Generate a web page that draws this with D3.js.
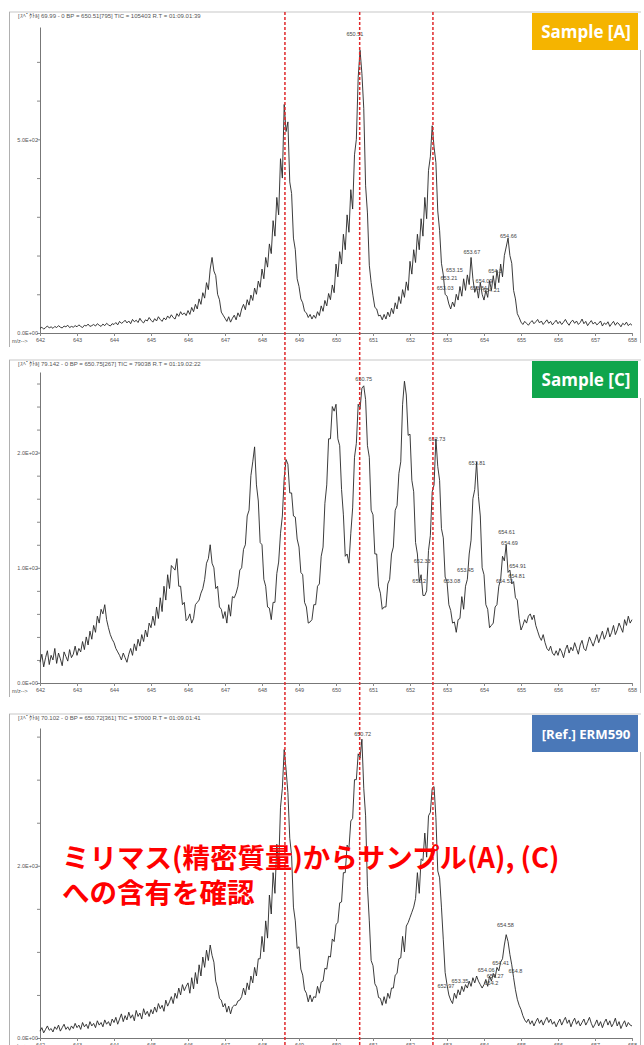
<!DOCTYPE html>
<html>
<head>
<meta charset="utf-8">
<script src="https://cdn.jsdelivr.net/npm/d3@7"></script>
<style>
  body { margin: 0; background: #fff; }
  svg { display: block; }
</style>
</head>
<body>
<script>
// m/z grid of the spectra (every 0.05 from 642)
const mzStart = 642, mzStep = 0.05;

// intensities
const sampleA = [
  12,15,10,14,18,13,16,12,17,14,19,15,13,18,16,20,14,17,15,19,
  16,21,17,14,20,18,23,17,19,22,18,24,20,17,23,19,25,21,18,24,
  22,27,21,30,25,28,33,26,31,24,35,29,33,27,38,30,26,34,31,40,
  33,28,37,31,42,35,30,39,34,44,38,47,40,36,50,43,55,47,52,45,
  58,48,66,55,74,62,88,74,104,90,130,112,165,195,160,148,100,86,54,46,
  38,30,42,28,38,46,34,52,42,62,74,60,86,72,98,84,116,100,134,118,
  165,140,195,170,230,205,290,250,350,305,450,400,590,520,545,390,360,245,215,140,
  120,88,78,56,52,40,48,36,46,38,55,45,70,56,84,70,102,86,124,104,
  178,145,210,178,255,215,305,260,370,320,460,500,660,730,670,580,380,310,175,130,
  96,66,62,44,46,34,48,36,54,42,64,50,78,62,94,76,112,92,132,110,
  185,152,215,182,255,215,295,250,350,295,420,455,535,480,440,315,265,180,150,100,
  95,75,62,80,68,100,85,120,95,140,110,150,125,195,140,105,120,90,130,100,
  85,110,92,135,110,148,115,162,130,178,145,200,222,245,200,180,110,88,50,40,
  28,22,30,25,20,27,32,24,29,35,26,31,22,28,34,25,30,21,27,33,
  24,30,22,28,35,26,20,29,33,25,31,22,27,36,24,30,19,26,32,23,
  28,21,25,31,18,26,22,29,17,24,30,20,27,23,16,25,21,28,19,24,
  20
];
const sampleC = [
  18,25,14,22,28,16,24,20,30,17,26,21,15,27,23,19,29,22,25,32,
  24,30,27,36,29,40,33,45,38,50,44,58,52,64,60,68,55,48,42,38,
  35,30,27,24,20,26,22,18,25,30,24,34,28,38,32,42,36,46,40,52,
  48,58,50,66,56,74,62,84,72,94,82,102,100,98,108,84,84,68,70,54,
  56,60,52,56,68,70,72,78,82,90,104,108,120,104,100,82,84,66,64,56,
  62,52,68,58,75,74,78,84,98,100,116,120,145,150,180,192,205,172,158,122,
  120,90,84,66,65,55,70,70,95,105,130,145,178,194,190,165,165,145,144,125,
  118,96,94,70,66,52,53,55,68,68,84,86,110,118,156,172,212,212,240,236,
  242,212,206,168,146,110,112,104,130,152,196,208,242,238,256,258,246,206,196,150,
  146,112,112,84,78,64,66,66,86,90,112,118,150,154,182,192,242,262,250,215,
  216,176,166,122,112,88,94,76,76,80,115,128,166,172,212,188,176,134,126,92,
  88,68,63,52,53,44,55,56,75,64,84,90,112,124,160,168,192,162,145,100,
  94,68,64,48,50,52,66,68,84,90,110,106,120,96,98,86,88,74,72,56,
  46,50,55,52,58,60,55,59,50,45,40,37,42,35,30,28,32,26,24,28,
  24,30,27,22,29,33,26,31,28,35,30,25,33,37,30,28,34,40,36,32,
  37,42,35,40,45,38,42,48,40,44,50,42,46,52,48,44,55,50,58,52,
  55
];
const refERM = [
  8,12,6,10,14,9,11,7,13,10,15,8,12,16,10,13,9,14,11,17,
  12,15,10,18,13,16,11,19,14,17,12,20,15,18,13,21,16,19,14,22,
  18,24,16,22,28,19,26,21,30,23,27,20,32,25,29,22,34,27,31,25,
  33,28,36,30,40,34,38,31,44,37,42,48,40,52,46,58,50,62,55,60,
  64,52,70,57,76,63,85,72,94,82,102,90,108,96,88,66,58,46,44,36,
  40,30,37,28,36,38,38,43,44,48,58,50,64,56,72,64,82,72,92,92,
  118,100,136,116,166,144,192,168,225,198,268,290,335,312,285,232,212,152,136,104,
  106,80,73,56,52,42,50,42,48,47,60,52,65,66,81,80,95,94,115,112,
  132,134,157,158,192,192,224,220,252,255,300,300,330,325,347,290,258,176,136,90,
  84,63,59,47,46,38,48,40,52,46,58,58,73,75,92,93,118,100,130,134,
  140,146,152,162,192,168,208,206,238,210,258,262,290,292,256,194,186,152,114,76,
  62,50,44,40,52,46,56,50,60,54,62,58,66,60,70,64,72,66,62,58,
  62,68,60,72,66,75,70,82,78,88,92,108,120,112,97,85,70,56,45,38,
  33,26,21,18,22,16,20,14,19,23,17,21,15,20,24,18,22,16,19,13,
  18,22,15,20,24,17,21,13,19,23,16,20,14,18,22,15,19,24,17,12,
  16,21,14,19,12,18,22,15,20,13,17,23,14,19,11,16,20,13,18,15,
  14
];

// peak annotations: text, m/z position, intensity where the label sits
const peakTextA  = ["650.51","653.67","654.66","653.15","653.21","653.03","653.84","654.09","654.3","654.21"];
const peakMzA    = [650.51, 653.67, 654.66, 653.2, 653.05, 652.95, 653.85, 654.0, 654.3, 654.2];
const peakLevelA = [768, 205, 245, 157, 137, 111, 111, 129, 155, 105];

const peakTextC  = ["650.75","652.73","653.81","652.33","652.2","653.08","653.45","654.61","654.69","654.91","654.81","654.53"];
const peakMzC    = [650.75, 652.73, 653.81, 652.33, 652.25, 653.13, 653.5, 654.61, 654.69, 654.91, 654.88, 654.55];
const peakLevelC = [262, 210, 189, 104, 87, 87, 96, 129, 120, 100, 91, 87];

const peakTextR  = ["650.72","654.58","652.97","653.35","654.41","654.06","654.27","654.2","654.8"];
const peakMzR    = [650.72, 654.58, 652.97, 653.35, 654.45, 654.06, 654.3, 654.2, 654.85];
const peakLevelR = [351, 129, 58, 64, 85, 77, 70, 62, 76];

const headers = [
  "[ｽﾍﾟｸﾄﾙ] 69.99 - 0   BP = 650.51[795]   TIC = 105403   R.T = 01:09.01:39",
  "[ｽﾍﾟｸﾄﾙ] 79.142 - 0   BP = 650.75[267]   TIC = 79038   R.T = 01:19.02:22",
  "[ｽﾍﾟｸﾄﾙ] 70.102 - 0   BP = 650.72[361]   TIC = 57000   R.T = 01:09.01:41"
];
const tagNames  = ["Sample [A]", "Sample [C]", "[Ref.] ERM590"];
const tagColors = ["#f5b400", "#10a54c", "#4a78b8"];

const yMaxes   = [790, 270, 360];
const yMajors  = [[0, 500], [0, 100, 200], [0, 200]];
const yMinorStep = [100, 20, 50];

const xTicks = d3.range(642, 659);
const markMz = [648.62, 650.64, 652.62];
const noteLines = ["ミリマス(精密質量)からサンプル(A), (C)", "への含有を確認"];

// ---- layout ----
const W = 644, H = 1045;
const panels = [
  { series: sampleA, top: 12,  plotTop: 27,  base: 333, texts: peakTextA, mzs: peakMzA, levels: peakLevelA },
  { series: sampleC, top: 360, plotTop: 372, base: 683, texts: peakTextC, mzs: peakMzC, levels: peakLevelC },
  { series: refERM,  top: 714, plotTop: 728, base: 1038, texts: peakTextR, mzs: peakMzR, levels: peakLevelR }
];

const svg = d3.select("body").append("svg")
  .attr("width", W).attr("height", H)
  .style("font-family", "Arial, 'Liberation Sans', sans-serif");

const x = d3.scaleLinear().domain([642, 658]).range([40, 632]);

function sci(v) {
  if (v === 0) return "0.0E+00";
  const e = Math.floor(Math.log10(v));
  return (v / Math.pow(10, e)).toFixed(1) + "E+" + String(e).padStart(2, "0");
}

panels.forEach(function (p, k) {
  const g = svg.append("g");
  const y = d3.scaleLinear().domain([0, yMaxes[k]]).range([p.base, p.plotTop]);

  // panel frame
  g.append("line").attr("x1", 9).attr("x2", 641).attr("y1", p.top).attr("y2", p.top)
    .attr("stroke", "#c8c8c8").attr("stroke-width", 1.2);
  g.append("line").attr("x1", 9.5).attr("x2", 9.5).attr("y1", p.top).attr("y2", p.base + 14)
    .attr("stroke", "#b0b0b0").attr("stroke-width", 1);
  g.append("line").attr("x1", 640.5).attr("x2", 640.5).attr("y1", p.top + 38).attr("y2", p.base + 10)
    .attr("stroke", "#b8b8b8").attr("stroke-width", 1);

  // header line
  g.append("text").attr("x", 18).attr("y", p.top + 6)
    .attr("font-size", 6).attr("fill", "#555").text(headers[k]);

  // axes
  const yTicks = d3.range(0, yMaxes[k] + 0.1, yMinorStep[k]);
  const yAxis = g.append("g").attr("transform", "translate(40,0)")
    .call(d3.axisLeft(y).tickValues(yTicks).tickSize(3).tickSizeOuter(0)
      .tickFormat(v => yMajors[k].includes(v) ? sci(v) : ""));
  const xAxis = g.append("g").attr("transform", "translate(0," + p.base + ")")
    .call(d3.axisBottom(x).tickValues(xTicks).tickSize(3).tickSizeOuter(0).tickFormat(d3.format("d")));
  [yAxis, xAxis].forEach(a => {
    a.select(".domain").attr("stroke", "#777");
    a.selectAll(".tick line").attr("stroke", "#888");
    a.selectAll("text").attr("font-size", 5.5).attr("fill", "#555").attr("font-family", "Arial, 'Liberation Sans', sans-serif");
  });
  yAxis.selectAll("text").attr("x", -2);
  xAxis.selectAll("text").attr("dy", "0.55em");
  g.append("text").attr("x", 12).attr("y", p.base + 10)
    .attr("font-size", 5.5).attr("fill", "#555").text("m/z-->");

  // spectrum trace
  const line = d3.line()
    .x((d, i) => x(mzStart + i * mzStep))
    .y(d => y(d));
  g.append("path").datum(p.series)
    .attr("d", line)
    .attr("fill", "none").attr("stroke", "#262626").attr("stroke-width", 0.9)
    .attr("stroke-linejoin", "round");

  // peak labels
  g.selectAll("text.peak").data(p.texts).enter().append("text")
    .attr("class", "peak")
    .attr("x", (d, i) => x(p.mzs[i]))
    .attr("y", (d, i) => y(p.levels[i]))
    .attr("text-anchor", "middle")
    .attr("font-size", 5.5).attr("fill", "#444")
    .text(d => d);

  // tag
  g.append("rect").attr("x", 532).attr("y", p.top + 1).attr("width", 106).attr("height", 37)
    .attr("fill", tagColors[k]);
  g.append("text").attr("x", 586).attr("y", p.top + 20).attr("dy", "0.35em")
    .attr("text-anchor", "middle").attr("fill", "#fff")
    .attr("font-family", "'Open Sans', sans-serif").attr("font-weight", 700)
    .attr("font-size", k === 2 ? 13.2 : 17)
    .text(tagNames[k]);
});

// red dashed reference lines across all panels
svg.selectAll("line.mark").data(markMz).enter().append("line")
  .attr("class", "mark")
  .attr("x1", d => x(d)).attr("x2", d => x(d))
  .attr("y1", 12).attr("y2", H)
  .attr("stroke", "#e0282a").attr("stroke-width", 1.5)
  .attr("stroke-dasharray", "3,2");

// red note
svg.selectAll("text.note").data(noteLines).enter().append("text")
  .attr("class", "note")
  .attr("x", 62).attr("y", (d, i) => 868 + i * 35)
  .attr("font-family", "'Noto Sans CJK JP', sans-serif").attr("font-weight", 700)
  .attr("font-size", 27.5).attr("fill", "#ff0000")
  .text(d => d);
</script>
</body>
</html>
